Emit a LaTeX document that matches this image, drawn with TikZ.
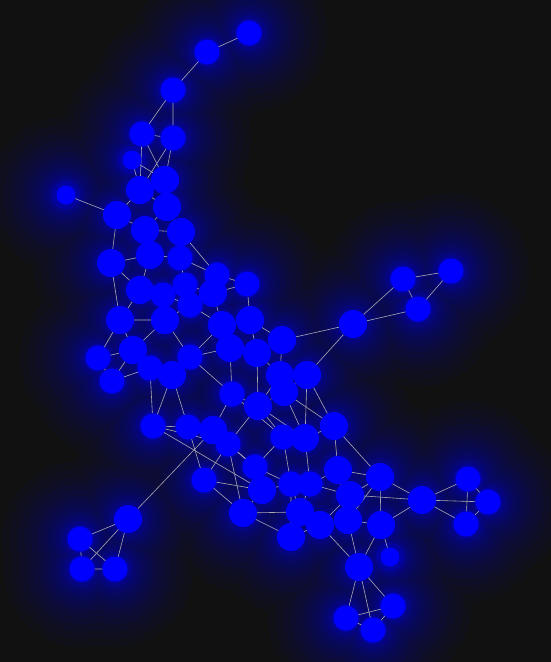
\documentclass[tikz,border=0pt]{standalone}
\usepackage{tikz}
\definecolor{noir}{HTML}{111111}
\definecolor{bleu}{HTML}{0000FF}
\definecolor{gris}{HTML}{A8A8B4}
\pgfdeclarelayer{fond}
\pgfdeclarelayer{liens}
\pgfsetlayers{fond,liens,main}

\begin{document}
\begin{tikzpicture}[x=1pt,y=-1pt]
	\tikzstyle{petit}=[circle,fill=bleu,minimum size=19pt,inner sep=0pt]
	\tikzstyle{moyen}=[circle,fill=bleu,minimum size=25pt,inner sep=0pt]
	\tikzstyle{grand}=[circle,fill=bleu,minimum size=28pt,inner sep=0pt]
	\tikzstyle{lien}=[draw=gris,line width=0.6pt]
	\useasboundingbox (0,0) rectangle (551,662);
	% haut
	\node[moyen] (n1) at (249,33){};
	\node[moyen] (n2) at (207,52){};
	\node[moyen] (n3) at (173,90){};
	\node[moyen] (n4) at (142,134){};
	\node[moyen] (n5) at (173,138){};
	\node[petit] (n6) at (132,160){};
	\node[petit] (n7) at (66,195){};
	\node[grand] (n8) at (165,180){};
	\node[grand] (n9) at (140,190){};
	\node[grand] (n10) at (117,215){};
	\node[grand] (n11) at (167,207){};
	\node[grand] (n12) at (145,230){};
	\node[grand] (n13) at (181,232){};
	\node[grand] (n14) at (111,263){};
	\node[grand] (n15) at (150,255){};
	\node[moyen] (n16) at (180,258){};
	\node[moyen] (n17) at (217,275){};
	\node[moyen] (n18) at (247,284){};
	\node[grand] (n19) at (140,290){};
	\node[moyen] (n20) at (185,285){};
	\node[moyen] (n21) at (163,295){};
	\node[grand] (n22) at (213,293){};
	\node[moyen] (n23) at (190,305){};
	\node[grand] (n24) at (120,320){};
	\node[grand] (n25) at (165,320){};
	\node[grand] (n26) at (222,325){};
	\node[grand] (n27) at (250,320){};
	\node[grand] (n28) at (282,340){};
	\node[grand] (n29) at (230,348){};
	\node[grand] (n30) at (257,353){};
	% droite
	\node[grand] (n31) at (353,324){};
	\node[moyen] (n32) at (403,279){};
	\node[moyen] (n33) at (451,271){};
	\node[moyen] (n34) at (418,309){};
	% milieu
	\node[moyen] (n35) at (98,358){};
	\node[grand] (n36) at (133,350){};
	\node[moyen] (n37) at (190,357){};
	\node[moyen] (n38) at (112,381){};
	\node[moyen] (n39) at (150,368){};
	\node[grand] (n40) at (172,375){};
	\node[grand] (n41) at (280,375){};
	\node[grand] (n42) at (307,375){};
	\node[moyen] (n43) at (232,394){};
	\node[grand] (n44) at (258,406){};
	\node[grand] (n45) at (284,392){};
	\node[moyen] (n46) at (153,426){};
	\node[moyen] (n47) at (188,427){};
	\node[grand] (n48) at (213,430){};
	\node[moyen] (n49) at (228,444){};
	\node[moyen] (n50) at (283,437){};
	\node[grand] (n51) at (305,438){};
	\node[grand] (n52) at (334,426){};
	% bas
	\node[moyen] (n53) at (204,480){};
	\node[moyen] (n54) at (255,467){};
	\node[grand] (n55) at (262,490){};
	\node[moyen] (n56) at (291,484){};
	\node[moyen] (n57) at (310,484){};
	\node[grand] (n58) at (338,470){};
	\node[grand] (n59) at (380,477){};
	\node[grand] (n60) at (350,495){};
	\node[grand] (n61) at (243,513){};
	\node[grand] (n62) at (300,512){};
	\node[grand] (n63) at (320,525){};
	\node[grand] (n64) at (348,520){};
	\node[grand] (n65) at (381,525){};
	\node[grand] (n66) at (291,537){};
	\node[grand] (n67) at (128,519){};
	\node[moyen] (n68) at (80,539){};
	\node[moyen] (n69) at (82,569){};
	\node[moyen] (n70) at (115,569){};
	\node[grand] (n71) at (422,500){};
	\node[moyen] (n72) at (468,479){};
	\node[moyen] (n73) at (488,502){};
	\node[moyen] (n74) at (466,524){};
	\node[petit] (n75) at (390,557){};
	\node[grand] (n76) at (359,567){};
	\node[moyen] (n77) at (346,618){};
	\node[moyen] (n78) at (373,630){};
	\node[moyen] (n79) at (393,606){};
	% fond et halo
	\begin{pgfonlayer}{fond}
		\fill[noir] (0,0) rectangle (551,662);
		\foreach \r/\o in {66/0.03,58/0.035,50/0.035,43/0.04,37/0.04,31/0.045,26/0.05,21/0.055,16/0.06,12/0.07,8/0.09,5/0.12,2/0.25}{
			\begin{scope}[transparency group,opacity=\o]
				\foreach \i in {1,...,79} \fill[bleu] (n\i) circle (12+\r);
			\end{scope}
		}
	\end{pgfonlayer}
	% liens
	\begin{pgfonlayer}{liens}
		\draw[lien] (n1)--(n2) (n2)--(n3) (n3)--(n4) (n3)--(n5) (n4)--(n5) (n4)--(n8) (n4)--(n9) (n5)--(n8) (n5)--(n9) (n6)--(n8) (n6)--(n9);
		\draw[lien] (n7)--(n10) (n8)--(n9) (n8)--(n11) (n9)--(n10) (n9)--(n11) (n10)--(n12) (n10)--(n14) (n11)--(n12) (n11)--(n13) (n12)--(n13) (n12)--(n15);
		\draw[lien] (n13)--(n16) (n14)--(n15) (n14)--(n19) (n14)--(n24) (n15)--(n16) (n15)--(n19) (n16)--(n20) (n16)--(n17) (n13)--(n17) (n17)--(n18) (n17)--(n22);
		\draw[lien] (n18)--(n22) (n18)--(n27) (n19)--(n21) (n19)--(n24) (n20)--(n21) (n20)--(n22) (n21)--(n23) (n21)--(n25) (n22)--(n23) (n22)--(n26) (n23)--(n26);
		\draw[lien] (n23)--(n25) (n24)--(n25) (n24)--(n36) (n24)--(n35) (n25)--(n37) (n25)--(n36) (n26)--(n27) (n26)--(n29) (n27)--(n28) (n27)--(n30) (n28)--(n30);
		\draw[lien] (n28)--(n31) (n29)--(n30) (n29)--(n37) (n29)--(n43) (n30)--(n41) (n28)--(n41) (n31)--(n32) (n31)--(n34) (n31)--(n42) (n32)--(n33) (n32)--(n34) (n33)--(n34);
		\draw[lien] (n35)--(n36) (n35)--(n38) (n36)--(n39) (n36)--(n38) (n37)--(n40) (n37)--(n43) (n38)--(n39) (n39)--(n40) (n40)--(n46) (n40)--(n47) (n39)--(n46);
		\draw[lien] (n41)--(n42) (n41)--(n45) (n42)--(n45) (n42)--(n52) (n43)--(n44) (n43)--(n48) (n44)--(n45) (n44)--(n50) (n44)--(n49) (n45)--(n51) (n45)--(n52);
		\draw[lien] (n46)--(n47) (n46)--(n49) (n47)--(n48) (n47)--(n53) (n48)--(n49) (n49)--(n53) (n49)--(n54) (n50)--(n51) (n50)--(n54) (n51)--(n52) (n51)--(n57);
		\draw[lien] (n52)--(n58) (n52)--(n59) (n53)--(n55) (n54)--(n55) (n54)--(n56) (n55)--(n56) (n55)--(n61) (n56)--(n57) (n56)--(n62) (n57)--(n58) (n57)--(n60);
		\draw[lien] (n58)--(n59) (n58)--(n60) (n59)--(n60) (n59)--(n71) (n59)--(n65) (n60)--(n64) (n61)--(n62) (n61)--(n66) (n62)--(n63) (n62)--(n66) (n63)--(n64);
		\draw[lien] (n63)--(n66) (n64)--(n65) (n64)--(n76) (n65)--(n71) (n65)--(n75) (n71)--(n72) (n71)--(n73) (n71)--(n74) (n72)--(n73) (n72)--(n74) (n73)--(n74);
		\draw[lien] (n60)--(n71) (n76)--(n77) (n76)--(n78) (n76)--(n79) (n77)--(n78) (n77)--(n79) (n78)--(n79) (n63)--(n76) (n67)--(n68) (n67)--(n69) (n67)--(n70);
		\draw[lien] (n68)--(n69) (n68)--(n70) (n69)--(n70) (n67)--(n48) (n46)--(n55) (n43)--(n50) (n44)--(n51) (n48)--(n54) (n50)--(n56) (n53)--(n61) (n49)--(n61);
		\draw[lien] (n57)--(n62) (n63)--(n60) (n66)--(n56) (n30)--(n44) (n26)--(n37) (n41)--(n44) (n42)--(n51) (n47)--(n49) (n58)--(n64) (n59)--(n64) (n65)--(n76);
	\end{pgfonlayer}
\end{tikzpicture}
\end{document}
